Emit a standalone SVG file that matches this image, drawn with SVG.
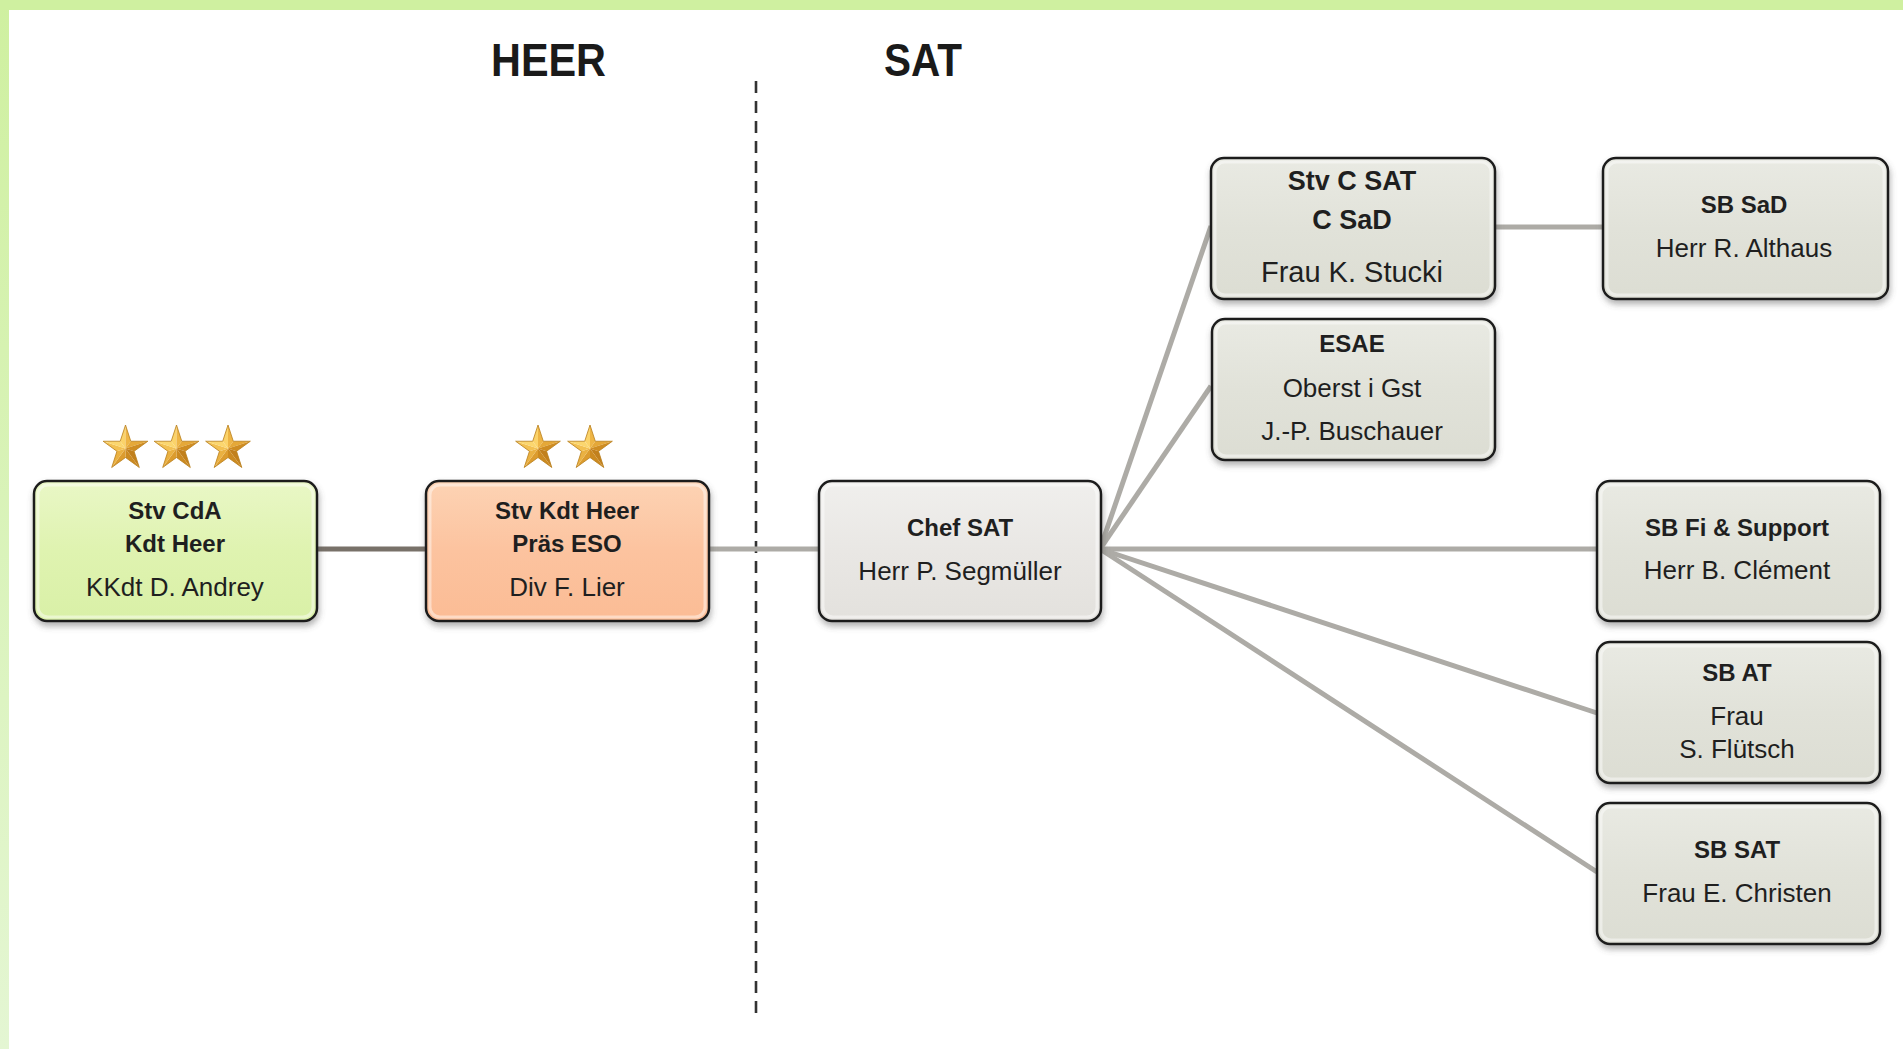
<svg xmlns="http://www.w3.org/2000/svg" xmlns:xlink="http://www.w3.org/1999/xlink" width="1903" height="1049" viewBox="0 0 1903 1049">
<style>
.t{font-family:"Liberation Sans",Arial,sans-serif;fill:#1f1f1f;text-anchor:middle}
.b{font-weight:bold;font-size:24px}
.r{font-size:26px}
.bl{font-weight:bold;font-size:27px}
.rl{font-size:29px}
.hd{font-family:"Liberation Sans",Arial,sans-serif;font-weight:bold;font-size:47px;fill:#1a1a1a}
.box{stroke:#1e1e1e;stroke-width:2.5}
.hi{fill:none;stroke:#ffffff;stroke-opacity:0.45;stroke-width:3}
.con{fill:none;stroke:#adaba6;stroke-width:5}
</style>
<defs>
<linearGradient id="gGreen" x1="0" y1="0" x2="0" y2="1"><stop offset="0" stop-color="#e9f7c6"/><stop offset="0.5" stop-color="#dff3b0"/><stop offset="1" stop-color="#d9f0a7"/></linearGradient>
<linearGradient id="gOrange" x1="0" y1="0" x2="0" y2="1"><stop offset="0" stop-color="#fdd3b4"/><stop offset="0.5" stop-color="#fcc39f"/><stop offset="1" stop-color="#fbbc95"/></linearGradient>
<linearGradient id="gGray" x1="0" y1="0" x2="0" y2="1"><stop offset="0" stop-color="#e9eae3"/><stop offset="0.5" stop-color="#e1e2d9"/><stop offset="1" stop-color="#dcddd3"/></linearGradient>
<linearGradient id="gChef" x1="0" y1="0" x2="0" y2="1"><stop offset="0" stop-color="#f0efed"/><stop offset="0.5" stop-color="#e9e7e4"/><stop offset="1" stop-color="#e3e1dd"/></linearGradient>
<linearGradient id="gLeft" x1="0" y1="0" x2="0" y2="1"><stop offset="0" stop-color="#cff0a0"/><stop offset="1" stop-color="#e4f6d3"/></linearGradient>
<filter id="sh" x="-10%" y="-10%" width="120%" height="130%"><feDropShadow dx="1" dy="4" stdDeviation="3" flood-color="#555" flood-opacity="0.45"/></filter>
<g id="star">
<polygon points="0,0 0,-23.5 -5.29,-7.28" fill="#fbd36a"/>
<polygon points="0,0 0,-23.5 5.29,-7.28" fill="#eeb545"/>
<polygon points="0,0 22.35,-7.26 5.29,-7.28" fill="#e5a838"/>
<polygon points="0,0 22.35,-7.26 8.56,2.78" fill="#cf8d22"/>
<polygon points="0,0 13.81,19.01 8.56,2.78" fill="#c2801c"/>
<polygon points="0,0 13.81,19.01 0,9" fill="#cc8a20"/>
<polygon points="0,0 -13.81,19.01 0,9" fill="#dc9c2e"/>
<polygon points="0,0 -13.81,19.01 -8.56,2.78" fill="#eab141"/>
<polygon points="0,0 -22.35,-7.26 -8.56,2.78" fill="#f3c152"/>
<polygon points="0,0 -22.35,-7.26 -5.29,-7.28" fill="#fbd66e"/>
<polygon points="0,-23.5 5.29,-7.28 22.35,-7.26 8.56,2.78 13.81,19.01 0,9 -13.81,19.01 -8.56,2.78 -22.35,-7.26 -5.29,-7.28" fill="none" stroke="#b87d1a" stroke-width="0.8"/>
</g>
</defs>
<rect x="0" y="0" width="1903" height="1049" fill="#ffffff"/>
<rect x="0" y="0" width="9" height="1049" fill="url(#gLeft)"/>
<rect x="0" y="0" width="1903" height="10" fill="#cff0a0"/>

<g id="headings">
<text class="hd" x="491" y="76" textLength="115" lengthAdjust="spacingAndGlyphs">HEER</text>
<text class="hd" x="884" y="76" textLength="78" lengthAdjust="spacingAndGlyphs">SAT</text>
<line x1="756" y1="81" x2="756" y2="1017" stroke="#333" stroke-width="2.6" stroke-dasharray="12 8"/>
</g>

<g id="connectors">
<line x1="317" y1="549" x2="426" y2="549" stroke="#787169" stroke-width="5"/>
<line class="con" x1="709" y1="549" x2="819" y2="549"/>
<line class="con" x1="1100" y1="549" x2="1211" y2="226"/>
<line class="con" x1="1100" y1="549" x2="1211" y2="386"/>
<line class="con" x1="1100" y1="549" x2="1597" y2="549"/>
<line class="con" x1="1100" y1="549" x2="1597" y2="713"/>
<line class="con" x1="1100" y1="549" x2="1597" y2="872"/>
<line class="con" x1="1495" y1="227" x2="1603" y2="227"/>
</g>

<g id="stars">
<use xlink:href="#star" href="#star" x="125.5" y="448.5"/>
<use xlink:href="#star" href="#star" x="176.5" y="448.5"/>
<use xlink:href="#star" href="#star" x="228" y="448.5"/>
<use xlink:href="#star" href="#star" x="538" y="448.5"/>
<use xlink:href="#star" href="#star" x="590" y="448.5"/>
</g>

<g id="node-kdt-heer">
<rect class="box" x="34" y="481" width="283" height="140" rx="13" fill="url(#gGreen)" filter="url(#sh)"/>
<rect class="hi" x="38" y="485" width="275" height="132" rx="10"/>
<text class="t b" x="175" y="519">Stv CdA</text>
<text class="t b" x="175" y="552">Kdt Heer</text>
<text class="t r" x="175" y="596">KKdt D. Andrey</text>
</g>

<g id="node-stv-kdt-heer">
<rect class="box" x="426" y="481" width="283" height="140" rx="13" fill="url(#gOrange)" filter="url(#sh)"/>
<rect class="hi" x="430" y="485" width="275" height="132" rx="10"/>
<text class="t b" x="567" y="519">Stv Kdt Heer</text>
<text class="t b" x="567" y="552">Präs ESO</text>
<text class="t r" x="567" y="596">Div F. Lier</text>
</g>

<g id="node-chef-sat">
<rect class="box" x="819" y="481" width="282" height="140" rx="13" fill="url(#gChef)" filter="url(#sh)"/>
<rect class="hi" x="823" y="485" width="274" height="132" rx="10"/>
<text class="t b" x="960" y="536">Chef SAT</text>
<text class="t r" x="960" y="580">Herr P. Segmüller</text>
</g>

<g id="node-stv-c-sat">
<rect class="box" x="1211" y="158" width="284" height="141" rx="13" fill="url(#gGray)" filter="url(#sh)"/>
<rect class="hi" x="1215" y="162" width="276" height="133" rx="10"/>
<text class="t bl" x="1352" y="190">Stv C SAT</text>
<text class="t bl" x="1352" y="229">C SaD</text>
<text class="t rl" x="1352" y="282">Frau K. Stucki</text>
</g>

<g id="node-esae">
<rect class="box" x="1212" y="319" width="283" height="141" rx="13" fill="url(#gGray)" filter="url(#sh)"/>
<rect class="hi" x="1216" y="323" width="275" height="133" rx="10"/>
<text class="t b" x="1352" y="352">ESAE</text>
<text class="t r" x="1352" y="397">Oberst i Gst</text>
<text class="t r" x="1352" y="440">J.-P. Buschauer</text>
</g>

<g id="node-sb-sad">
<rect class="box" x="1603" y="158" width="285" height="141" rx="13" fill="url(#gGray)" filter="url(#sh)"/>
<rect class="hi" x="1607" y="162" width="277" height="133" rx="10"/>
<text class="t b" x="1744" y="213">SB SaD</text>
<text class="t r" x="1744" y="257">Herr R. Althaus</text>
</g>

<g id="node-sb-fi">
<rect class="box" x="1597" y="481" width="283" height="140" rx="13" fill="url(#gGray)" filter="url(#sh)"/>
<rect class="hi" x="1601" y="485" width="275" height="132" rx="10"/>
<text class="t b" x="1737" y="536">SB Fi &amp; Support</text>
<text class="t r" x="1737" y="579">Herr B. Clément</text>
</g>

<g id="node-sb-at">
<rect class="box" x="1597" y="642" width="283" height="141" rx="13" fill="url(#gGray)" filter="url(#sh)"/>
<rect class="hi" x="1601" y="646" width="275" height="133" rx="10"/>
<text class="t b" x="1737" y="681">SB AT</text>
<text class="t r" x="1737" y="725">Frau</text>
<text class="t r" x="1737" y="758">S. Flütsch</text>
</g>

<g id="node-sb-sat">
<rect class="box" x="1597" y="803" width="283" height="141" rx="13" fill="url(#gGray)" filter="url(#sh)"/>
<rect class="hi" x="1601" y="807" width="275" height="133" rx="10"/>
<text class="t b" x="1737" y="858">SB SAT</text>
<text class="t r" x="1737" y="902">Frau E. Christen</text>
</g>
</svg>
